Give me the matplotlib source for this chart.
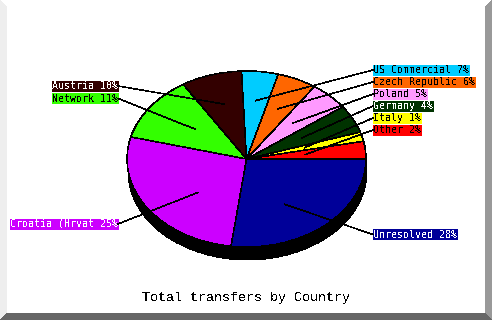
import numpy as np
import matplotlib
matplotlib.use('Agg')
import matplotlib.pyplot as plt
from matplotlib.patches import Polygon, Ellipse

# slices, counter-clockwise from 3 o'clock
countries = ['Other', 'Italy', 'Germany', 'Poland', 'Czech Republic',
             'US Commercial', 'Austria', 'Network', 'Croatia (Hrvat', 'Unresolved']
shares = [2.4, 1.3, 4.2, 5.1, 6.3, 6.6, 10.3, 10.8, 25.2, 27.8]
colors = ['#ff0000', '#ffff00', '#003300', '#ff99ff', '#ff6600',
          '#00ccff', '#330000', '#33ff00', '#cc00ff', '#000099']
text_colors = ['black', 'black', 'white', 'black', 'black',
               'black', 'white', 'black', 'white', 'white']
title = 'Total transfers by Country'

# layout (pixels)
W, H = 492, 320
cx, cy, rx, ry = 246.5, 159, 119.5, 88
label_side = ['R', 'R', 'R', 'R', 'R', 'R', 'L', 'L', 'L', 'R']
label_y = [130, 118, 106, 94, 82, 70, 86, 98.5, 224, 234.5]

plt.rcParams['text.antialiased'] = False

fig = plt.figure(figsize=(W / 100, H / 100), dpi=100)
ax_bg = fig.add_axes([0, 0, 1, 1])
ax_bg.set_xlim(0, W)
ax_bg.set_ylim(H, 0)
ax_bg.axis('off')

# bevelled frame
ax_bg.add_patch(Polygon([(0, 0), (7, 7), (7, 313), (0, 320)], closed=True,
                        fc='#eeeeee', ec='none', antialiased=False))
ax_bg.add_patch(Polygon([(485, 7), (492, 0), (492, 320), (485, 313)], closed=True,
                        fc='#999999', ec='none', antialiased=False))
ax_bg.add_patch(Polygon([(0, 320), (7, 313), (485, 313), (492, 320)], closed=True,
                        fc='#666666', ec='none', antialiased=False))

# pie axes: unit circle stretched to the ellipse
ax = fig.add_axes([0, 0, 1, 1], zorder=2)
ax.patch.set_visible(False)

# slice angles are measured on screen, convert to the ellipse parameter
vals = np.array(shares)
theta = np.radians(360 * np.cumsum(vals) / vals.sum())
t = np.degrees(np.arctan2(rx * np.sin(theta), ry * np.cos(theta))) % 360
t[-1] = 360
sizes = np.diff(np.concatenate([[0], t]))

ax.add_patch(Ellipse((1 / rx, -13 / ry), 2, 2, fc='black', ec='none',
                     zorder=0.5, antialiased=False))
wedges, _ = ax.pie(sizes, colors=colors, startangle=0, counterclock=True,
                   radius=1, center=(0, 0),
                   wedgeprops=dict(edgecolor='black', linewidth=0.4,
                                   antialiased=False))
ax.set_aspect('auto')
ax.set_xlim((0 - cx) / rx, (W - cx) / rx)
ax.set_ylim((cy - H) / ry, (cy - 0) / ry)
ax.axis('off')

# labels and leader lines
mid = np.radians(360 * (np.cumsum(vals) - vals / 2) / vals.sum())
for i, name in enumerate(countries):
    txt = f'{name} {round(shares[i])}%'
    if label_side[i] == 'R':
        lx = 373
        ax_bg.text(lx, label_y[i], txt, ha='left', va='center',
                   family='DejaVu Sans Mono', fontsize=7.2, color=text_colors[i],
                   bbox=dict(boxstyle='square,pad=0.05', fc=colors[i], ec='none'))
    else:
        lx = 118
        ax_bg.text(lx, label_y[i], txt, ha='right', va='center',
                   family='DejaVu Sans Mono', fontsize=7.2, color=text_colors[i],
                   bbox=dict(boxstyle='square,pad=0.05', fc=colors[i], ec='none'))
    px = 59 * np.cos(mid[i]) / rx
    py = 59 * np.sin(mid[i]) / ry
    ax.plot([(lx - cx) / rx, px], [(cy - label_y[i]) / ry, py], color='black',
            lw=0.4, antialiased=False, clip_on=False, zorder=5)

ax_bg.text(246, 298, title, ha='center', va='center',
           family='Liberation Mono', fontsize=9.6, color='black')

fig.savefig('out.png', dpi=100)
